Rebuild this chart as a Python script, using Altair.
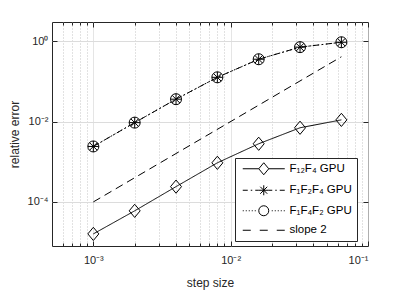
import altair as alt
import pandas as pd

# ---- data ----
h = [0.001, 0.002, 0.004, 0.008, 0.016, 0.032, 0.064]
err_f12f4 = [1.6e-5, 6.0e-5, 2.4e-4, 9.4e-4, 2.8e-3, 7.0e-3, 1.1e-2]
err_f1f2f4 = [2.4e-3, 9.4e-3, 3.6e-2, 1.26e-1, 3.55e-1, 7.1e-1, 9.4e-1]
err_f1f4f2 = [2.4e-3, 9.4e-3, 3.6e-2, 1.26e-1, 3.55e-1, 7.1e-1, 9.4e-1]
slope_h = [0.001, 0.064]
slope_err = [1e-4, 0.4096]

labels = ["F\u2081\u2082F\u2084 GPU", "F\u2081F\u2082F\u2084 GPU", "F\u2081F\u2084F\u2082 GPU", "slope 2"]

x_major = [0.001, 0.01, 0.1]
x_minor = [0.0006, 0.0007, 0.0008, 0.0009,
           0.002, 0.003, 0.004, 0.005, 0.006, 0.007, 0.008, 0.009,
           0.02, 0.03, 0.04, 0.05, 0.06, 0.07, 0.08, 0.09]
y_major = [1e-4, 1e-2, 1.0]
x_domain = [0.0005, 0.1]
y_domain = [8e-6, 3.0]

rows = []
for lab, vals in zip(labels[:3], [err_f12f4, err_f1f2f4, err_f1f4f2]):
    for xv, yv in zip(h, vals):
        rows.append({"h": xv, "err": yv, "series": lab})
df = pd.DataFrame(rows)
df_slope = pd.DataFrame({"h": slope_h, "err": slope_err, "series": labels[3]})
df_all = pd.concat([df, df_slope], ignore_index=True)

INK = "#262626"
FONT = "Liberation Sans"

xs = alt.Scale(type="log", domain=x_domain, nice=False)
ys = alt.Scale(type="log", domain=y_domain, nice=False)

major_test = "abs(log(datum.value)/LN10 - round(log(datum.value)/LN10)) < 0.01"

x_grid_axis = alt.Axis(values=x_major + x_minor, orient="bottom", grid=True, ticks=False,
                       labels=False, domain=False, title=None,
                       gridColor={"condition": {"test": major_test, "value": "#dcdcdc"}, "value": "#c4c4c4"},
                       gridDash={"condition": {"test": major_test, "value": [1, 0]}, "value": [1, 2]})
y_grid_axis = alt.Axis(values=y_major, orient="left", grid=True, gridColor="#dcdcdc", ticks=False,
                       labels=False, domain=False, title=None)

x_main_axis = alt.Axis(values=x_major, orient="bottom", offset=-5, tickSize=5, grid=False, domain=False,
                       labelPadding=8, title="step size", titlePadding=12,
                       labelExpr="datum.value < 0.005 ? '10\u207b\u00b3' : (datum.value < 0.05 ? '10\u207b\u00b2' : '10\u207b\u00b9')")
y_main_axis = alt.Axis(values=y_major, orient="left", offset=-5, tickSize=5, grid=False, domain=False,
                       labelPadding=4, title="relative error", titlePadding=6,
                       labelExpr="datum.value > 0.5 ? '10\u2070' : (datum.value > 0.005 ? '10\u207b\u00b2' : '10\u207b\u2074')")
x_minor_axis = alt.Axis(values=x_minor, orient="bottom", offset=-3, tickSize=3, grid=False, domain=False,
                        labels=False, title=None)
y_right_axis = alt.Axis(values=y_major, orient="right", offset=-5, tickSize=5, grid=False, domain=False,
                        labels=False, title=None)
x_top_axis = alt.Axis(values=x_major, orient="top", offset=-5, tickSize=5, grid=False, domain=False,
                      labels=False, title=None)
x_top_minor_axis = alt.Axis(values=x_minor, orient="top", offset=-3, tickSize=3, grid=False, domain=False,
                            labels=False, title=None)

diamond = "M 0 -1.2 L 1 0 L 0 1.2 L -1 0 Z"
asterisk = "M -1 0 L 1 0 M 0 -1 L 0 1 M -0.7 -0.7 L 0.7 0.7 M -0.7 0.7 L 0.7 -0.7"

slope = alt.Chart(df_slope).mark_line(color="black", strokeWidth=1, strokeDash=[8, 5]).encode(
    x=alt.X("h:Q", scale=xs, axis=x_grid_axis),
    y=alt.Y("err:Q", scale=ys, axis=y_grid_axis),
)

lines = alt.Chart(df).mark_line(color="black", strokeWidth=1).encode(
    x=alt.X("h:Q", scale=xs, axis=x_main_axis),
    y=alt.Y("err:Q", scale=ys, axis=y_main_axis),
    strokeDash=alt.StrokeDash("series:N", scale=alt.Scale(domain=labels[:3],
                              range=[[1, 0], [6, 3, 1.5, 3], [1.5, 2.5]]), legend=None),
)

pts_d = alt.Chart(df[df.series == labels[0]]).mark_point(
    shape=diamond, size=121, filled=False, stroke="black", strokeWidth=1, opacity=1).encode(
    x=alt.X("h:Q", scale=xs, axis=x_minor_axis),
    y=alt.Y("err:Q", scale=ys, axis=y_right_axis),
)
pts_a = alt.Chart(df[df.series == labels[1]]).mark_point(
    shape=asterisk, size=121, filled=False, stroke="black", strokeWidth=1, opacity=1).encode(
    x=alt.X("h:Q", scale=xs, axis=x_top_axis),
    y=alt.Y("err:Q", scale=ys, axis=None),
)
pts_c = alt.Chart(df[df.series == labels[2]]).mark_point(
    shape="circle", size=121, filled=False, stroke="black", strokeWidth=1, opacity=1).encode(
    x=alt.X("h:Q", scale=xs, axis=x_top_minor_axis),
    y=alt.Y("err:Q", scale=ys, axis=None),
)

leg_paths = [
    "M -4.2 0 L -1 0 M 1 0 L 4.2 0 " + diamond,
    "M -4.2 0 L -3.2 0 M -2.6 0 L -2.3 0 M -1.7 0 L -1 0 M 1 0 L 1.7 0 M 2.3 0 L 2.6 0 M 3.2 0 L 4.2 0 " + asterisk,
    "M -4.2 0 L -4.0 0 M -3.6 0 L -3.4 0 M -3.0 0 L -2.8 0 M -2.4 0 L -2.2 0 M -1.8 0 L -1.6 0 "
    "M 1.6 0 L 1.8 0 M 2.2 0 L 2.4 0 M 2.8 0 L 3.0 0 M 3.4 0 L 3.6 0 M 4.0 0 L 4.2 0 "
    "M 1 0 A 1 1 0 1 1 -1 0 A 1 1 0 1 1 1 0",
    "M -4.2 0 L -2.6 0 M -0.8 0 L 0.8 0 M 2.6 0 L 4.2 0",
]

legend_layer = alt.Chart(df_all).mark_point(opacity=0, filled=False, stroke="black").encode(
    x=alt.X("h:Q", scale=xs, axis=None),
    y=alt.Y("err:Q", scale=ys, axis=None),
    shape=alt.Shape("series:N", scale=alt.Scale(domain=labels, range=leg_paths),
                    legend=alt.Legend(orient="none", legendX=183, legendY=136, title=None,
                                      padding=5, strokeColor=INK, fillColor="white",
                                      symbolSize=100, symbolStrokeColor="black", symbolStrokeWidth=1,
                                      symbolFillColor="transparent", symbolOpacity=1,
                                      symbolOffset=18, labelOffset=20, rowPadding=5.5,
                                      labelFont=FONT, labelFontSize=11.5, labelColor="black")),
)

chart = alt.layer(slope, lines, pts_d, pts_a, pts_c, legend_layer).resolve_axis(
    x="independent", y="independent"
).properties(
    width=316, height=224,
    padding={"left": 44, "top": 14, "right": 25, "bottom": 44},
    autosize=alt.AutoSizeParams(type="none"),
).configure_view(stroke=INK, strokeWidth=1).configure_axis(
    labelFont=FONT, titleFont=FONT, labelFontSize=11, titleFontSize=12,
    labelColor=INK, titleColor=INK, tickColor=INK, titleFontWeight="normal",
)

chart.save("out.html", embed_options={"renderer": "svg", "actions": False})
